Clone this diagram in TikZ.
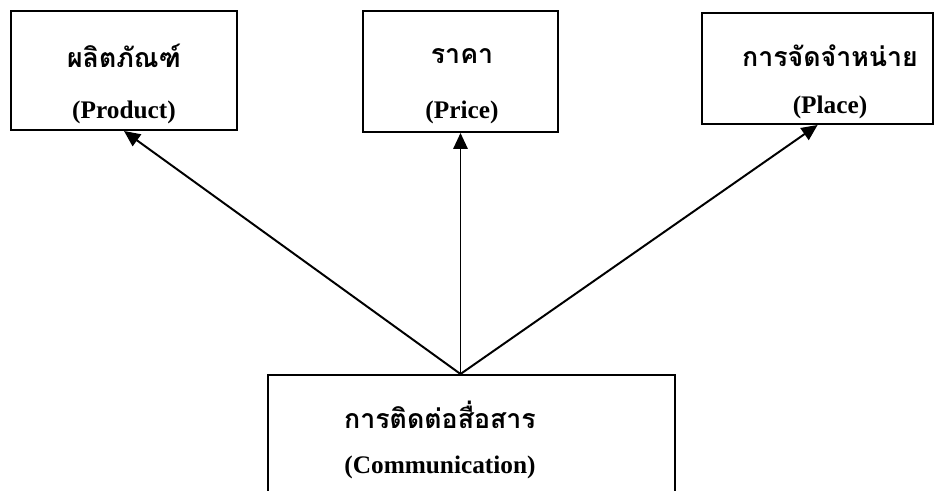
\documentclass[tikz,border=0pt]{standalone}
\usepackage{fontspec}
\setmainfont{Liberation Serif}
\newfontfamily\thaifont[Script=Thai]{Loma}
\usetikzlibrary{arrows.meta}

\tikzset{
  mixbox/.style={draw, line width=1.4pt, inner sep=0pt},
  thtext/.style={font=\thaifont\bfseries\fontsize{19}{22}\selectfont, inner sep=0pt},
  entext/.style={font=\bfseries\fontsize{18}{22}\selectfont, inner sep=0pt},
  link/.style={line width=1.4pt, -{Triangle[length=0.4cm, width=0.36cm]}}
}

\begin{document}
\begin{tikzpicture}
\path[use as bounding box, clip] (0, 0) rectangle (23.35, -12.275);
% the four boxes
\node [mixbox, minimum width=5.65cm, minimum height=2.975cm] (prod) at (3.1, -1.7625) {};
\node [mixbox, minimum width=4.875cm, minimum height=3.025cm] (price) at (11.5125, -1.7875) {};
\node [mixbox, minimum width=5.775cm, minimum height=2.775cm] (place) at (20.44, -1.7125) {};
\node [mixbox, minimum width=10.175cm, minimum height=4cm, anchor=north] (comm) at (11.7875, -9.35) {};
% texts
\node [thtext] (prodth) at (3.1, -1.4) {ผลิตภัณฑ์};
\node [entext] (proden) at (3.1, -2.8) {(Product)};
\node [thtext] (priceth) at (11.55, -1.4) {ราคา};
\node [entext] (priceen) at (11.55, -2.8) {(Price)};
\node [thtext] (placeth) at (20.75, -1.4) {การจัดจำหน่าย};
\node [entext] (placeen) at (20.75, -2.675) {(Place)};
\node [thtext] (commth) at (11.0, -10.375) {การติดต่อสื่อสาร};
\node [entext] (commen) at (11.0, -11.675) {(Communication)};
% arrows
\coordinate (src) at (price.south |- comm.north);
\draw [link] (src) -- (prod.south);
\draw [link] (src) -- (price.south);
\draw [link] (src) -- (place.south);
\end{tikzpicture}
\end{document}
